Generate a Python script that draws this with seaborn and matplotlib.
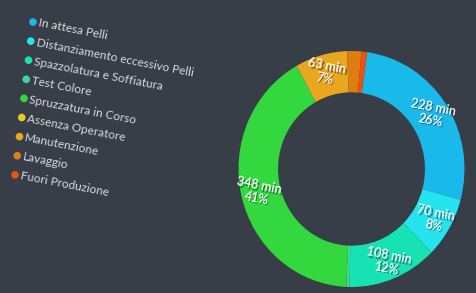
import numpy as np
import pandas as pd
import seaborn as sns
import matplotlib.pyplot as plt

# data
categories = ['In attesa Pelli', 'Distanziamento eccessivo Pelli', 'Spazzolatura e Soffiatura',
              'Test Colore', 'Spruzzatura in Corso', 'Assenza Operatore', 'Manutenzione',
              'Lavaggio', 'Fuori Produzione']
minutes = [228, 70, 108, 4, 348, 0, 63, 17, 7]
colors = ['#19b9ec', '#25e4ee', '#17e2b4', '#3bd99a', '#33d83f', '#e9cc1f',
          '#e8a71e', '#e07d12', '#ea5210']

bg = '#373e48'
sns.set_style('dark')
plt.rcParams['font.family'] = ['Lato', 'DejaVu Sans']

df = pd.DataFrame({'cat': categories, 'min': minutes, 'color': colors})
total = df['min'].sum()
tilt = -11

fig = plt.figure(figsize=(4.76, 2.93), dpi=100, facecolor=bg)

# donut (slightly taller than wide, like the photo)
w_px, h_px = 2.12 * 113, 2.12 * 118
cx, cy = 351.5, 169
ax = fig.add_axes([(cx - w_px / 2) / 476, 1 - (cy + h_px / 2) / 293, w_px / 476, h_px / 293])
ax.set_facecolor(bg)
wedges, _ = ax.pie(df['min'], colors=df['color'], startangle=82, counterclock=False,
                   radius=1.0, wedgeprops=dict(width=0.35, linewidth=0))
ax.set_aspect('auto')
ax.set_xlim(-1.06, 1.06)
ax.set_ylim(-1.06, 1.06)
ax.axis('off')

for w, v in zip(wedges, df['min']):
    pct = int(v / total * 100)
    if pct < 5:
        continue
    ang = np.deg2rad((w.theta1 + w.theta2) / 2)
    r = 0.85
    lbl = f'{v} min\n{pct}%'
    ax.text(r * np.cos(ang) + 0.012, r * np.sin(ang) - 0.012, lbl, color='#1e242b',
            alpha=0.55, fontsize=9, fontweight='semibold', ha='center', va='center',
            rotation=tilt, linespacing=1.1)
    ax.text(r * np.cos(ang), r * np.sin(ang), lbl, color='white', fontsize=9,
            fontweight='semibold', ha='center', va='center', rotation=tilt, linespacing=1.1)

# legend (tilted like the reference)
lax = fig.add_axes([0, 0, 1, 1])
lax.set_xlim(0, 476)
lax.set_ylim(293, 0)
lax.axis('off')
for i, (c, col) in enumerate(zip(df['cat'], df['color'])):
    x = 33 - 2.25 * i
    y = 22 + 19.1 * i
    lax.scatter([x], [y], s=30, color=col, edgecolor='none')
    lax.text(x + 5.5, y + 1, c, color='#d6dadf', fontsize=8.6, ha='left', va='center',
             rotation=tilt, rotation_mode='anchor')

fig.savefig('out.png', dpi=100, facecolor=bg)
